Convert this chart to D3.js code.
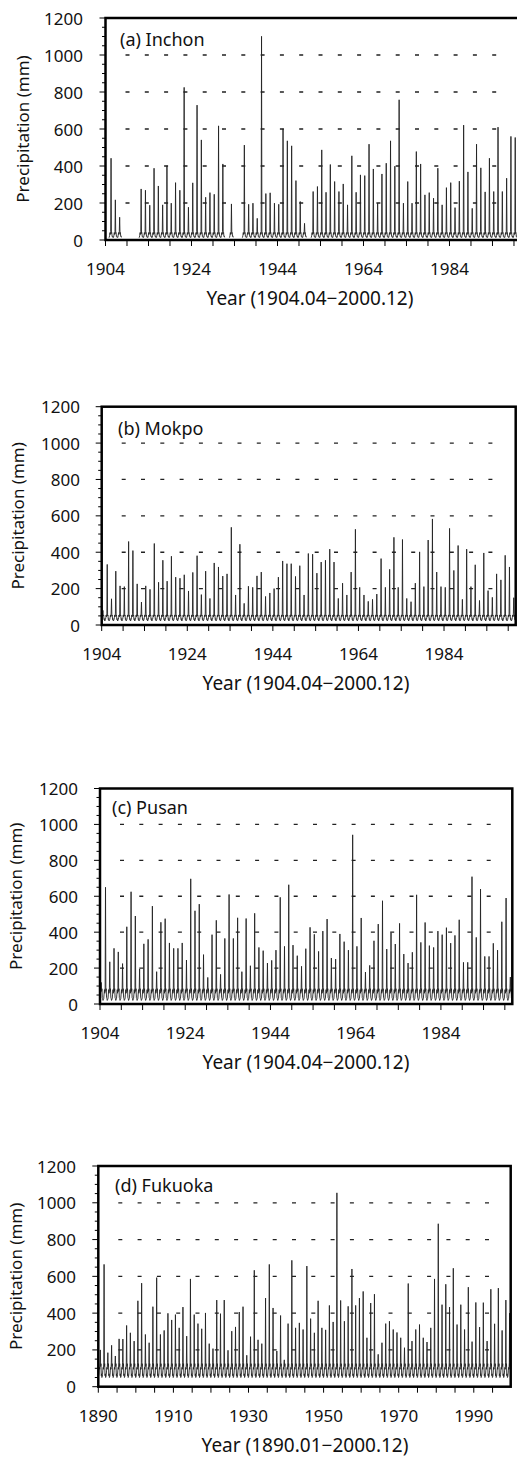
<!DOCTYPE html>
<html lang="en">
<head>
<meta charset="utf-8">
<script src="https://cdn.jsdelivr.net/npm/d3@7"></script>
<style>
  body { margin: 0; background: #fff; }
  svg { display: block; font-family: "Noto Sans", "DejaVu Sans", sans-serif; }
  .frame { fill: none; stroke: #000; stroke-width: 2.5; }
  .grid line { stroke: #222; stroke-width: 1.3; stroke-dasharray: 4 15.3; }
  .series { fill: none; stroke: #222; stroke-width: 0.9; stroke-linejoin: round; }
  .tick { stroke: #000; stroke-width: 1; }
  .tick-label { font-size: 17px; fill: #111; }
  .axis-title { font-size: 19px; fill: #111; }
  .y-title { font-size: 17px; fill: #111; }
  .panel-label { font-size: 18px; fill: #111; }
</style>
</head>
<body>
<svg id="chart" width="517" height="1461"></svg>
<script>
// annual peak monthly precipitation (mm), read off the spikes; null = no record
// Inchon, 1904..2000
var inchonPeak = [null, 442, 217, 123, null, null, null, null, 276, 269,
  188, 388, 292, 190, 401, 199, 310, 269, 825, 177,
  309, 729, 541, 231, 256, 247, 617, 411, null, 195,
  null, null, 513, 193, 199, 117, 1101, 251, 255, 199,
  193, 601, 536, 509, 321, 208, 90, null, 262, 289,
  487, 258, 408, 316, 262, 303, 190, 455, 258, 352,
  348, 518, 384, 199, 357, 415, 536, 399, 758, 199,
  316, 199, 478, 411, 244, 256, 226, 388, 190, 283,
  310, 175, 318, 621, 368, 171, 518, 390, 260, 442,
  262, 610, 262, 334, 560, 554, 300];

// Mokpo, 1904..2000
var mokpoPeak = [80, 333, 144, 296, 215, 211, 459, 409, 226, 126,
  215, 196, 448, 235, 356, 241, 378, 263, 257, 276,
  187, 289, 381, 167, 296, 146, 341, 319, 269, 281,
  537, 165, 444, 119, 213, 207, 270, 291, 157, 176,
  200, 263, 352, 337, 337, 267, 326, 165, 393, 389,
  285, 346, 356, 417, 346, 146, 230, 165, 291, 526,
  207, 165, 130, 141, 170, 365, 207, 306, 482, 207,
  470, 146, 128, 230, 402, 211, 467, 583, 291, 211,
  207, 531, 300, 437, 141, 417, 211, 331, 135, 396,
  189, 152, 281, 248, 383, 319, 150];

// Pusan, 1904..2000
var pusanPeak = [120, 650, 235, 310, 290, 225, 430, 625, 490, 195,
  335, 360, 545, 180, 455, 475, 340, 310, 310, 340,
  245, 697, 519, 556, 275, 148, 386, 466, 165, 365,
  610, 365, 480, 180, 476, 213, 505, 315, 297, 228,
  243, 300, 594, 321, 664, 328, 269, 210, 308, 427,
  388, 293, 406, 473, 256, 250, 390, 347, 300, 942,
  321, 479, 178, 215, 352, 445, 575, 306, 397, 334,
  449, 278, 228, 288, 608, 343, 454, 325, 315, 406,
  386, 425, 339, 382, 469, 232, 232, 709, 371, 640,
  265, 265, 338, 300, 458, 590, 150];

// Fukuoka, 1890..2000
var fukuokaPeak = [200, 665, 185, 225, 167, 260, 259, 333, 293, 248,
  467, 563, 284, 239, 435, 593, 284, 306, 399, 363,
  392, 320, 433, 275, 586, 392, 343, 315, 401, 234,
  207, 471, 397, 471, 198, 302, 325, 406, 435, 171,
  272, 633, 255, 234, 482, 665, 428, 194, 387, 146,
  343, 687, 320, 347, 311, 656, 370, 293, 467, 320,
  309, 442, 352, 1054, 469, 356, 437, 640, 442, 482,
  518, 266, 455, 503, 176, 239, 343, 356, 311, 295,
  266, 212, 561, 248, 311, 338, 266, 243, 320, 586,
  886, 446, 557, 433, 644, 338, 446, 311, 541, 245,
  458, 324, 457, 248, 530, 342, 536, 306, 471, 400,
  450];

// typical level of the other months (Jan..Dec, mm), read off the low wiggles;
// the July slot is filled from the peak arrays above
var inchonBase  = [12, 15, 25, 40, 30, 45, null, 35, 40, 20, 22, 14];
var mokpoBase   = [25, 30, 40, 55, 45, 65, null, 50, 55, 30, 35, 22];
var pusanBase   = [25, 30, 55, 80, 60, 90, null, 70, 85, 35, 30, 20];
var fukuokaBase = [55, 65, 90, 105, 95, 130, null, 110, 125, 60, 70, 50];
var PEAK_MONTH = 6;

var yTicks = [0, 200, 400, 600, 800, 1000, 1200];
var gridValues = [200, 400, 600, 800, 1000];

var panels = [
  { label: "(a) Inchon", peaks: inchonPeak, base: inchonBase, firstYear: 1904, firstMonth: 3,
    xTitle: "Year (1904.04\u22122000.12)", domain: [1904.25, 2001],
    left: 105.5, right: 521.5, frameRight: 521.5, top: 18, bottom: 240,
    yLabelX: 83, yTitleX: 22, titleX: 310, labelX: 120, labelY: 46 },
  { label: "(b) Mokpo", peaks: mokpoPeak, base: mokpoBase, firstYear: 1904, firstMonth: 3,
    xTitle: "Year (1904.04\u22122000.12)", domain: [1904.25, 2001],
    left: 101.7, right: 515.7, frameRight: 515.7, top: 406.7, bottom: 625,
    yLabelX: 80, yTitleX: 17.5, titleX: 306, labelX: 118, labelY: 435 },
  { label: "(c) Pusan", peaks: pusanPeak, base: pusanBase, firstYear: 1904, firstMonth: 3,
    xTitle: "Year (1904.04\u22122000.12)", domain: [1904.25, 2001],
    left: 100, right: 512.3, frameRight: 512.3, top: 788.5, bottom: 1004,
    yLabelX: 78, yTitleX: 15.7, titleX: 306, labelX: 112, labelY: 814 },
  { label: "(d) Fukuoka", peaks: fukuokaPeak, base: fukuokaBase, firstYear: 1890, firstMonth: 0,
    xTitle: "Year (1890.01\u22122000.12)", domain: [1890, 2001],
    left: 98.3, right: 515.1, frameRight: 510.7, top: 1166, bottom: 1386.7,
    yLabelX: 76, yTitleX: 15.7, titleX: 305, labelX: 115, labelY: 1192 }
];

var svg = d3.select("#chart");

// monthly series from the annual peak + typical monthly level
function monthly(p) {
  var out = [];
  p.peaks.forEach(function(pk, i) {
    var yr = p.firstYear + i;
    for (var m = (i === 0 ? p.firstMonth : 0); m < 12; m++) {
      var v = pk == null ? null : (m === PEAK_MONTH ? pk : p.base[m]);
      out.push({ t: yr + (m + 0.5) / 12, v: v });
    }
  });
  return out;
}

panels.forEach(function(p, idx) {
  var x = d3.scaleLinear().domain(p.domain).range([p.left, p.right]);
  var y = d3.scaleLinear().domain([0, 1200]).range([p.bottom, p.top]);
  var g = svg.append("g");

  var clipId = "clip" + idx;
  svg.append("clipPath").attr("id", clipId)
    .append("rect")
      .attr("x", p.left).attr("y", p.top - 2)
      .attr("width", p.frameRight - p.left).attr("height", p.bottom - p.top + 2);

  // dashed gridlines
  g.append("g").attr("class", "grid")
    .selectAll("line").data(gridValues).enter().append("line")
      .attr("x1", p.left + 20).attr("x2", p.frameRight - 10)
      .attr("y1", function(d) { return y(d); })
      .attr("y2", function(d) { return y(d); });

  var line = d3.line()
    .defined(function(d) { return d.v != null; })
    .x(function(d) { return x(d.t); })
    .y(function(d) { return y(d.v); });

  g.append("path")
    .datum(monthly(p))
    .attr("class", "series")
    .attr("clip-path", "url(#" + clipId + ")")
    .attr("d", line);

  // y ticks (major every 200, minor every 50) pointing out
  g.selectAll(".ytick").data(d3.range(0, 1201, 50)).enter().append("line")
    .attr("class", "tick")
    .attr("x1", function(d) { return p.left - (d % 200 === 0 ? 6 : 3.5); })
    .attr("x2", p.left)
    .attr("y1", function(d) { return y(d); })
    .attr("y2", function(d) { return y(d); });

  g.selectAll(".ylab").data(yTicks).enter().append("text")
    .attr("class", "tick-label")
    .attr("x", p.yLabelX)
    .attr("y", function(d) { return y(d); })
    .attr("text-anchor", "end")
    .attr("dominant-baseline", "central")
    .text(function(d) { return d; });

  // x ticks every 5 years, labels every 20
  var xt = d3.range(p.domain[0], p.domain[1], 5).filter(function(t) { return x(t) <= p.frameRight + 0.5; });
  g.selectAll(".xtick").data(xt).enter().append("line")
    .attr("class", "tick")
    .attr("x1", function(d) { return x(d); })
    .attr("x2", function(d) { return x(d); })
    .attr("y1", p.bottom)
    .attr("y2", p.bottom + 6);

  g.selectAll(".xlab").data(xt.filter(function(d, i) { return i % 4 === 0; })).enter().append("text")
    .attr("class", "tick-label")
    .attr("x", function(d) { return x(d); })
    .attr("y", p.bottom + 35)
    .attr("text-anchor", "middle")
    .text(function(d) { return Math.floor(d); });

  g.append("rect").attr("class", "frame")
    .attr("x", p.left).attr("y", p.top)
    .attr("width", p.frameRight - p.left).attr("height", p.bottom - p.top);

  g.append("text").attr("class", "panel-label")
    .attr("x", p.labelX).attr("y", p.labelY)
    .text(p.label);

  g.append("text").attr("class", "axis-title")
    .attr("x", p.titleX).attr("y", p.bottom + 65)
    .attr("text-anchor", "middle")
    .text(p.xTitle);

  g.append("text").attr("class", "y-title")
    .attr("transform", "translate(" + p.yTitleX + "," + (p.top + p.bottom) / 2 + ") rotate(-90)")
    .attr("text-anchor", "middle")
    .attr("dominant-baseline", "central")
    .text("Precipitation (mm)");
});
</script>
</body>
</html>
